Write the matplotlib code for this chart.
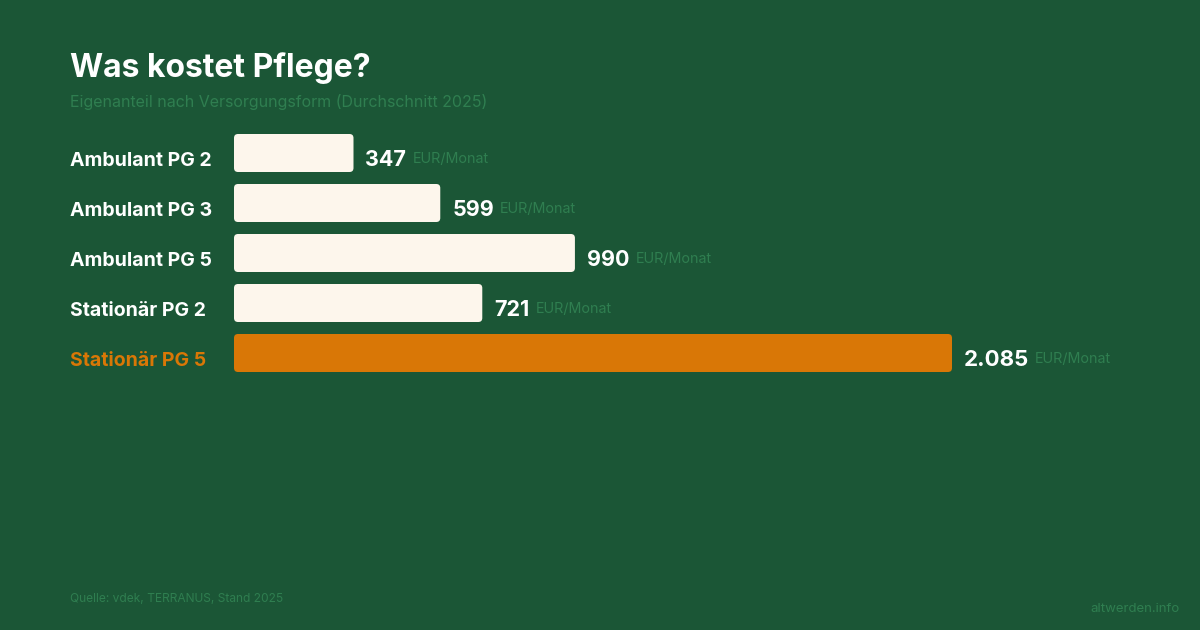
import matplotlib
matplotlib.use("Agg")
import matplotlib.pyplot as plt
from matplotlib.patches import FancyBboxPatch

plt.rcParams['font.family'] = ['Inter', 'DejaVu Sans']

# Daten
kategorien = ['Ambulant PG 2', 'Ambulant PG 3', 'Ambulant PG 5', 'Stationär PG 2', 'Stationär PG 5']
werte = [347, 599, 990, 721, 2085]
wert_labels = ['347', '599', '990', '721', '2.085']
hervorheben = [False, False, False, False, True]

BG = '#1b5636'
CREAM = '#fdf6ec'
ORANGE = '#d97706'
DIM = '#2f7e50'

W, H = 1200, 630
PT = 0.72  # px -> pt bei dpi 100
fig = plt.figure(figsize=(12, 6.3), dpi=100, facecolor=BG)

# Achse in Pixelkoordinaten platzieren: Balken starten bei x=234, Zeilen 128..378
px_per_unit = 718 / 2085
ax_left, ax_right = 234, 1200
ax_top, ax_bot = 128, 378
ax = fig.add_axes([ax_left / W, 1 - ax_bot / H, (ax_right - ax_left) / W, (ax_bot - ax_top) / H])
ax.set_facecolor(BG)
ax.set_xlim(0, (ax_right - ax_left) / px_per_unit)
ax.set_ylim(len(werte) - 0.5, -0.5)
ax.axis('off')

bar_h = 38 / 50
rad_x = 4 / px_per_unit
rad_y = 4 / 50
for i, (v, hl) in enumerate(zip(werte, hervorheben)):
    farbe = ORANGE if hl else CREAM
    p = FancyBboxPatch((0, i - bar_h / 2), v, bar_h,
                       boxstyle=f"round,pad=0,rounding_size={rad_x}",
                       mutation_aspect=rad_y / rad_x,
                       facecolor=farbe, edgecolor='none')
    ax.add_patch(p)
    t = ax.annotate(wert_labels[i], xy=(v, i), xytext=(12 * PT, -13 * PT), textcoords='offset points',
                    ha='left', va='baseline', color='white',
                    fontsize=16 if hl else 15.5, fontweight='bold')
    ax.annotate('EUR/Monat', xy=(1, i), xycoords=(t, 'data'), xytext=(6 * PT, -10 * PT),
                textcoords='offset points', ha='left', va='baseline', color=DIM, fontsize=10.3)
    fig.text(70 / W, 1 - (i * 50 + 166) / H, kategorien[i], ha='left', va='baseline',
             color=ORANGE if hl else 'white', fontsize=14, fontweight='bold')

fig.text(70 / W, 1 - 77 / H, 'Was kostet Pflege?', ha='left', va='baseline',
         color='white', fontsize=23, fontweight='bold')
fig.text(70 / W, 1 - 107 / H, 'Eigenanteil nach Versorgungsform (Durchschnitt 2025)', ha='left', va='baseline',
         color=DIM, fontsize=11.5)
fig.text(70 / W, 1 - 602 / H, 'Quelle: vdek, TERRANUS, Stand 2025', ha='left', va='baseline',
         color=DIM, fontsize=8.6)
fig.text(1180 / W, 1 - 612 / H, 'altwerden.info', ha='right', va='baseline',
         color=DIM, fontsize=9.5)

fig.savefig('out.png', dpi=100, facecolor=BG)
